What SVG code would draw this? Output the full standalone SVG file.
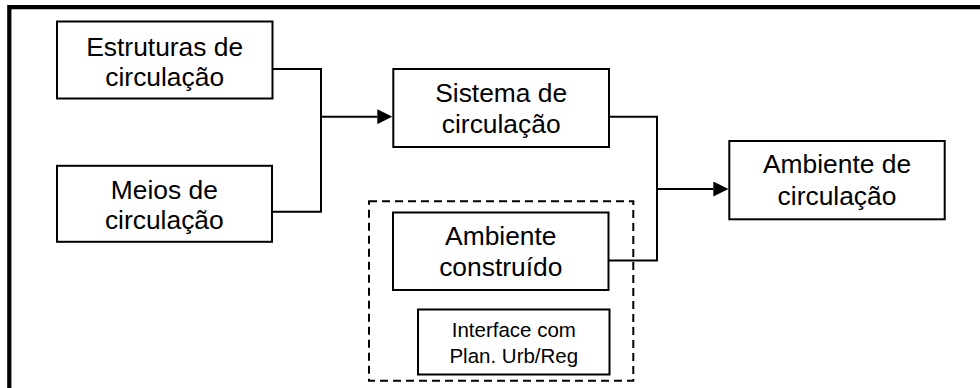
<svg xmlns="http://www.w3.org/2000/svg" width="980" height="388" viewBox="0 0 980 388">
<style>
.box{fill:#fff;stroke:#000;stroke-width:2}
.dash{fill:none;stroke:#000;stroke-width:2;stroke-dasharray:8 5}
.lbl{font-family:"Liberation Sans",Arial,sans-serif;font-size:26.4px;fill:#000;text-anchor:middle}
.sm{font-size:20.5px}
.con{fill:none;stroke:#000;stroke-width:2}
</style>
<defs>
<marker id="arr" markerUnits="userSpaceOnUse" markerWidth="15" markerHeight="15" refX="0" refY="7.5" orient="auto">
<path d="M0,0 L15,7.5 L0,15 Z" fill="#000"/>
</marker>
</defs>
<rect width="980" height="388" fill="#fff"/>
<path d="M9.3,388 V7.2 H980" fill="none" stroke="#000" stroke-width="4.2"/>
<g id="connectors">
<path class="con" d="M272.5,69 H321 V211.7 H272.5"/>
<path class="con" d="M321,116.7 H377.3" marker-end="url(#arr)"/>
<path class="con" d="M609,116.7 H657 V260.5 H609"/>
<path class="con" d="M657,189 H713.3" marker-end="url(#arr)"/>
</g>
<g id="group-dashed">
<rect class="dash" x="369" y="201.3" width="264.3" height="179.4"/>
</g>
<g id="estruturas">
<rect class="box" x="57" y="21.5" width="215.5" height="77"/>
<text class="lbl" x="164.7" y="55.5">Estruturas de</text>
<text class="lbl" x="164.7" y="86">circulação</text>
</g>
<g id="meios">
<rect class="box" x="57" y="165.8" width="215" height="76"/>
<text class="lbl" x="164.3" y="198.5">Meios de</text>
<text class="lbl" x="164.3" y="229">circulação</text>
</g>
<g id="sistema">
<rect class="box" x="393.3" y="69" width="215.7" height="78"/>
<text class="lbl" x="501.2" y="101.7">Sistema de</text>
<text class="lbl" x="501.2" y="132.7">circulação</text>
</g>
<g id="ambiente-construido">
<rect class="box" x="393" y="212.5" width="215.5" height="77.5"/>
<text class="lbl" x="500.8" y="245">Ambiente</text>
<text class="lbl" x="500.8" y="275.7">construído</text>
</g>
<g id="interface">
<rect class="box" x="418" y="309.5" width="191.5" height="65"/>
<text class="lbl sm" x="513.8" y="336.7">Interface com</text>
<text class="lbl sm" x="513.8" y="363.3">Plan. Urb/Reg</text>
</g>
<g id="ambiente-circulacao">
<rect class="box" x="729.3" y="141" width="215.4" height="78.3"/>
<text class="lbl" x="837" y="173.3">Ambiente de</text>
<text class="lbl" x="837" y="205">circulação</text>
</g>
</svg>
